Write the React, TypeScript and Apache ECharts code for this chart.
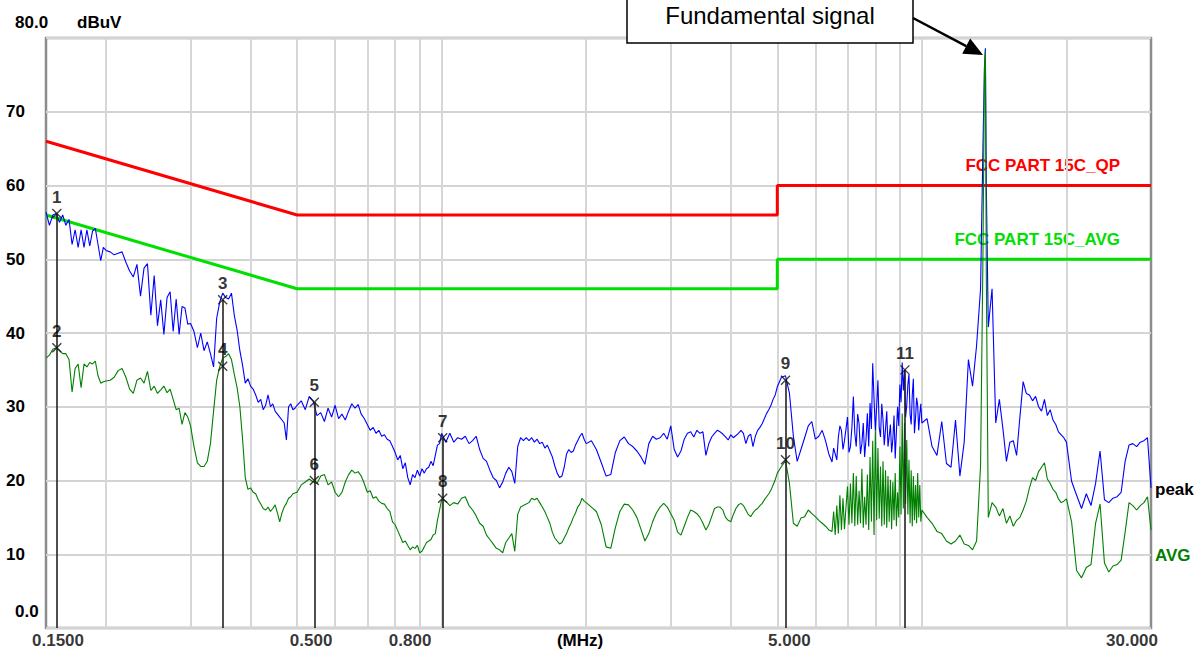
import React, { useEffect, useRef } from "react";
import * as echarts from "echarts";

// ---------- data ----------
const FREQ_MHZ: number[] = [
  // 0.15 - 0.20
  0.15, 0.1525, 0.155, 0.1575, 0.16, 0.1625, 0.165, 0.1675, 0.17, 0.1725, 0.175, 0.1775, 0.18, 0.1825, 0.185, 0.1875, 0.19, 0.1925, 0.195, 0.1975, 0.2,
  // 0.20 - 0.30
  0.204, 0.208, 0.212, 0.216, 0.22, 0.224, 0.228, 0.232, 0.236, 0.24, 0.244, 0.248, 0.252, 0.256, 0.26, 0.264, 0.268, 0.272, 0.276, 0.28, 0.284, 0.288, 0.292, 0.296, 0.3,
  // 0.30 - 0.50
  0.305, 0.31, 0.315, 0.32, 0.325, 0.33, 0.335, 0.34, 0.345, 0.35, 0.355, 0.36, 0.365, 0.37, 0.375, 0.38, 0.385, 0.39, 0.395, 0.4,
  0.405, 0.41, 0.415, 0.42, 0.425, 0.43, 0.435, 0.44, 0.445, 0.45, 0.455, 0.46, 0.465, 0.47, 0.475, 0.48, 0.485, 0.49, 0.495, 0.5,
  // 0.5 - 1.0
  0.51, 0.52, 0.53, 0.54, 0.55, 0.56, 0.57, 0.58, 0.59, 0.6,
  0.61, 0.62, 0.63, 0.64, 0.65, 0.66, 0.67, 0.68, 0.69, 0.7,
  0.71, 0.72, 0.73, 0.74, 0.75, 0.76, 0.77, 0.78, 0.79, 0.8,
  0.81, 0.82, 0.83, 0.84, 0.85, 0.86, 0.87, 0.88, 0.89, 0.9,
  0.91, 0.92, 0.93, 0.94, 0.95, 0.96, 0.97, 0.98, 0.99, 1.0,
  // 1 - 2
  1.02, 1.04, 1.06, 1.08, 1.1, 1.12, 1.14, 1.16, 1.18, 1.2,
  1.22, 1.24, 1.26, 1.28, 1.3, 1.32, 1.34, 1.36, 1.38, 1.4,
  1.42, 1.44, 1.46, 1.48, 1.5, 1.52, 1.54, 1.56, 1.58, 1.6,
  1.62, 1.64, 1.66, 1.68, 1.7, 1.72, 1.74, 1.76, 1.78, 1.8,
  1.82, 1.84, 1.86, 1.88, 1.9, 1.92, 1.94, 1.96, 1.98, 2.0,
  // 2 - 5
  2.05, 2.1, 2.15, 2.2, 2.25, 2.3, 2.35, 2.4, 2.45, 2.5,
  2.55, 2.6, 2.65, 2.7, 2.75, 2.8, 2.85, 2.9, 2.95, 3.0,
  3.05, 3.1, 3.15, 3.2, 3.25, 3.3, 3.35, 3.4, 3.45, 3.5,
  3.55, 3.6, 3.65, 3.7, 3.75, 3.8, 3.85, 3.9, 3.95, 4.0,
  4.05, 4.1, 4.15, 4.2, 4.25, 4.3, 4.35, 4.4, 4.45, 4.5,
  4.55, 4.6, 4.65, 4.7, 4.75, 4.8, 4.85, 4.9, 4.95, 5.0,
  // 5 - 10
  5.1, 5.2, 5.3, 5.4, 5.5, 5.6, 5.7, 5.8, 5.9, 6.0,
  6.1, 6.2, 6.3, 6.4, 6.5,
  6.55, 6.6, 6.65, 6.7, 6.75, 6.8, 6.85, 6.9, 6.95, 7.0,
  7.05, 7.1, 7.15, 7.2, 7.25, 7.3, 7.35, 7.4, 7.45, 7.5,
  7.55, 7.6, 7.65, 7.7, 7.75, 7.8, 7.85, 7.9, 7.95, 8.0,
  8.05, 8.1, 8.15, 8.2, 8.25, 8.3, 8.35, 8.4, 8.45, 8.5,
  8.55, 8.6, 8.65, 8.7, 8.75, 8.8, 8.85, 8.9, 8.95, 9.0,
  9.05, 9.1, 9.15, 9.2, 9.25, 9.3, 9.35, 9.4, 9.45, 9.5,
  9.55, 9.6, 9.65, 9.7, 9.75, 9.8, 9.85, 9.9, 9.95, 10.0,
  // 10 - 30
  10.25, 10.5, 10.75, 11, 11.25, 11.5, 11.75, 12, 12.25, 12.5, 12.75, 13, 13.25,
  13.4, 13.5, 13.56, 13.62,
  13.75, 14, 14.25, 14.5, 14.75, 15, 15.25, 15.5, 15.75, 16, 16.25, 16.5, 16.75,
  17, 17.25, 17.5, 17.75, 18, 18.25, 18.5, 18.75, 19, 19.25, 19.5, 19.75, 20,
  20.5, 21, 21.5, 22, 22.5, 23, 23.5, 24, 24.5, 25, 25.5, 26, 26.5, 27, 27.5, 28, 28.5, 29, 29.5, 30,
];

const PEAK_DBUV: number[] = [
  56.4, 54.6, 56.0, 56.2, 55.0, 56.0, 54.6, 55.4, 52.0, 54.0, 51.6, 54.0, 51.6, 54.0, 51.8, 53.8, 54.2, 52.0, 49.8, 51.6, 51.2,
  51.0, 50.6, 50.8, 51.0, 49.6, 48.4, 47.6, 49.3, 45.0, 48.8, 49.4, 42.4, 47.8, 41.0, 44.5, 39.8, 44.8, 45.6, 40.2, 44.6, 39.8, 43.6, 43.4, 41.2, 41.3,
  40.2, 38.0, 40.0, 37.6, 38.8, 37.2, 35.4, 42.0, 44.2, 45.4, 44.8, 44.6, 45.4, 42.4, 40.4, 37.6, 35.6, 33.2, 33.8, 32.8,
  32.4, 31.6, 30.6, 31.0, 29.6, 30.2, 31.6, 30.0, 30.4, 29.4, 29.0, 28.6, 28.2, 27.8, 25.5, 30.0, 30.4, 29.6, 29.8, 30.2,
  30.8, 29.6, 31.4, 30.8, 28.8, 29.2, 28.0, 29.8, 28.6, 30.2,
  28.4, 29.0, 28.2, 29.4, 30.4, 29.8, 30.3, 29.0, 28.4, 27.6,
  26.8, 27.2, 26.4, 26.8, 26.0, 26.2, 25.6, 25.4, 24.6, 23.8,
  22.8, 23.4, 21.6, 22.4, 20.4, 19.4, 20.8, 20.4, 21.4, 20.6,
  21.6, 21.0, 21.6, 21.8, 22.6, 22.0, 23.4, 24.8, 25.0, 26.4,
  25.2, 26.4, 25.2, 25.8, 25.6, 26.0, 25.0, 25.4, 26.0, 24.2,
  23.0, 22.6, 21.4, 20.4, 20.0, 19.0, 19.8, 21.0, 21.8, 21.2,
  19.6, 24.6, 25.8, 25.4, 25.8, 25.4, 25.8, 25.2, 25.6, 25.0,
  25.2, 24.4, 24.8, 24.0, 23.2, 22.0, 21.0, 20.4, 20.6, 21.8,
  23.6, 24.2, 23.8, 24.0, 24.8, 25.4, 26.0, 26.4, 25.6, 25.0,
  25.4, 24.2, 22.4, 20.6, 20.8, 23.8, 25.4, 25.9, 25.0, 24.6,
  24.0, 23.2, 22.2, 25.0, 26.0, 25.6, 25.8, 26.4, 25.6, 27.4,
  24.2, 23.2, 24.0, 25.6, 26.4, 26.6, 25.9, 26.8, 26.4, 26.6,
  23.4, 25.0, 25.9, 26.4, 26.8, 26.6, 26.3, 25.9, 25.5, 26.2,
  25.8, 26.1, 26.4, 26.8, 26.4, 25.0, 26.0, 26.3, 24.6, 26.0,
  26.8, 27.2, 27.7, 28.4, 29.1, 29.6, 30.2, 31.0, 31.6, 32.7,
  34.0, 34.2, 31.8, 26.0, 22.6, 24.2, 25.8, 27.4, 28.0, 25.6,
  26.0, 26.8, 25.4, 23.6, 22.5,
  24.4, 23.6, 22.8, 25.9, 27.4, 26.8, 24.2, 25.4, 27.0, 28.6,
  23.8, 24.6, 27.2, 31.4, 26.4, 24.6, 29.0, 27.7, 23.6, 25.0,
  27.8, 23.2, 25.6, 29.1, 24.6, 30.5, 27.0, 35.9, 31.0, 26.8,
  30.0, 33.6, 27.2, 25.9, 30.4, 28.2, 24.8, 27.0, 29.4, 24.6,
  26.0, 27.6, 23.8, 25.6, 28.8, 23.0, 26.6, 30.0, 27.4, 33.0,
  30.6, 36.0, 32.2, 35.0, 28.6, 30.2, 33.0, 34.4, 29.0, 27.6,
  31.6, 33.8, 26.4, 28.4, 31.2, 30.2, 26.8, 29.0, 30.4, 27.8,
  28.4, 24.6, 23.4, 28.0, 22.3, 21.8, 28.2, 20.6, 25.2, 36.4, 32.8, 38.3, 46.0,
  65.0, 76.0, 78.6, 60.0,
  40.8, 46.0, 27.8, 31.0, 27.0, 22.6, 25.2, 25.4, 23.4, 28.6, 33.4, 31.8, 31.6,
  30.8, 31.4, 30.0, 29.4, 31.0, 28.8, 29.6, 28.2, 27.6, 26.6, 26.2, 25.8, 25.2,
  19.9, 18.0, 16.2, 18.2, 16.6, 19.6, 24.0, 17.4, 17.0, 17.6, 17.8, 18.4, 22.6, 24.8, 25.0, 24.6, 25.2, 25.4, 25.8, 19.0,
];

const AVG_DBUV: number[] = [
  36.6, 37.0, 37.8, 38.0, 37.6, 37.2, 37.2, 36.4, 32.0, 35.2, 35.8, 32.6, 35.8, 35.4, 36.0, 35.8, 36.2, 34.2, 33.2, 33.4, 33.5,
  33.6, 34.0, 34.9, 35.2, 34.0, 32.4, 31.8, 33.6, 33.9, 33.2, 34.8, 32.2, 32.8, 31.8, 32.3, 32.8, 31.9, 32.4, 31.0, 29.6, 29.8, 27.6, 29.2, 28.6, 27.4,
  24.6, 22.4, 21.9, 21.9, 22.6, 25.0, 29.4, 33.6, 35.4, 36.6, 36.8, 37.2, 36.4, 34.4, 32.6, 30.0, 25.6, 20.4, 18.8, 19.0,
  18.4, 18.2, 17.4, 16.8, 16.2, 16.0, 16.4, 15.8, 16.2, 16.7, 15.6, 14.4, 15.6, 16.4, 16.9, 17.6, 17.8, 18.2, 18.3, 18.4,
  19.4, 19.8, 20.2, 19.8, 19.6, 20.6, 20.8, 19.4, 19.8, 18.4,
  17.8, 18.4, 19.8, 20.8, 21.4, 21.0, 21.2, 20.6, 19.6, 18.4,
  18.6, 17.6, 17.8, 17.2, 16.9, 16.8, 16.2, 15.8, 14.4, 14.0,
  13.2, 12.4, 11.6, 11.8, 11.2, 10.6, 11.0, 10.8, 11.2, 10.2,
  10.4, 11.0, 11.6, 11.8, 12.0, 12.6, 12.8, 14.6, 16.0, 17.4,
  17.2, 16.6, 17.0, 16.8, 17.6, 17.8, 16.6, 16.0, 15.2, 14.2,
  13.8, 12.6, 12.0, 11.4, 10.8, 10.6, 10.2, 11.6, 12.2, 12.8,
  10.4, 15.4, 16.4, 16.6, 16.8, 17.0, 17.6, 17.4, 17.6, 17.0,
  16.4, 15.8, 15.0, 14.2, 13.0, 12.2, 11.8, 11.4, 11.6, 12.2,
  12.8, 13.6, 14.2, 15.0, 15.6, 16.4, 16.8, 17.6, 17.2, 17.0,
  16.4, 15.8, 14.0, 11.0, 10.8, 13.6, 15.8, 16.8, 16.7, 16.0,
  15.0, 13.4, 11.8, 12.8, 14.4, 15.6, 16.4, 16.9, 16.4, 15.5,
  14.6, 13.0, 12.6, 13.8, 15.0, 16.0, 15.8, 15.5, 15.0, 14.2,
  13.3, 14.0, 15.1, 16.2, 16.4, 16.4, 16.0, 15.0, 14.6, 14.4,
  15.4, 16.2, 16.7, 16.9, 16.6, 16.0, 15.4, 15.1, 15.6, 16.0,
  16.2, 16.6, 16.9, 17.4, 17.8, 18.2, 18.7, 19.4, 20.1, 21.0,
  21.9, 22.7, 19.6, 14.2, 13.8, 14.9, 15.1, 16.0, 15.5, 15.1,
  14.6, 14.2, 13.8, 13.3, 13.1,
  15.8, 12.6, 16.6, 12.8, 18.0, 13.3, 17.6, 13.4, 16.4, 19.2,
  14.0, 19.6, 14.2, 21.0, 13.8, 20.6, 14.0, 18.6, 14.2, 21.6,
  13.6, 17.8, 14.0, 20.8, 13.3, 23.2, 14.4, 25.4, 12.6, 26.8,
  14.6, 24.4, 14.8, 21.9, 13.8, 22.6, 14.0, 21.4, 13.6, 20.6,
  14.4, 20.1, 13.4, 19.8, 14.6, 21.0, 13.8, 18.4, 15.0, 24.6,
  15.4, 29.1, 16.2, 27.8, 16.8, 25.5, 15.4, 22.8, 14.2, 21.4,
  13.8, 20.6, 14.6, 19.4, 14.2, 21.0, 15.0, 19.4, 14.4, 16.0,
  15.0, 14.2, 13.1, 12.8, 11.8, 11.4, 11.8, 12.6, 11.4, 11.2, 10.6, 11.8, 22.0,
  50.0, 76.0, 78.2, 48.0,
  15.0, 17.0, 16.4, 15.2, 16.2, 14.2, 15.2, 13.8, 14.6, 15.0, 16.0, 17.2, 19.0,
  20.4, 20.0, 21.2, 21.8, 22.4, 20.2, 19.6, 18.8, 18.4, 17.5, 17.0, 17.2, 17.5,
  14.4, 7.8, 6.8, 8.2, 8.6, 14.2, 16.8, 8.8, 7.6, 8.4, 8.6, 9.2, 13.0, 17.0, 16.6, 16.0, 16.6, 17.0, 17.8, 13.3,
];

const QP_LIMIT_FREQ: number[] = [0.15, 0.5, 5, 5, 30];
const QP_LIMIT_DBUV: number[] = [66, 56, 56, 60, 60];
const AV_LIMIT_FREQ: number[] = [0.15, 0.5, 5, 5, 30];
const AV_LIMIT_DBUV: number[] = [56, 46, 46, 50, 50];

const MARKER_LABELS: string[] = ["1", "2", "3", "4", "5", "6", "7", "8", "9", "10", "11"];
const MARKER_FREQ: number[] = [0.158, 0.158, 0.35, 0.35, 0.543, 0.543, 1.005, 1.005, 5.2, 5.2, 9.22];
const MARKER_DBUV: number[] = [56.2, 38.0, 44.5, 35.5, 30.6, 20.0, 25.8, 17.6, 33.6, 22.8, 35.0];

const X_TICK_FREQ: number[] = [0.15, 0.5, 0.8, 5, 30];
const X_TICK_TEXT: string[] = ["0.1500", "0.500", "0.800", "5.000", "30.000"];
const GRID_FREQ: number[] = [0.2, 0.3, 0.4, 0.5, 0.6, 0.7, 0.8, 0.9, 1, 2, 3, 4, 5, 6, 7, 8, 9, 10, 20];

// ---------- layout / style (not data) ----------
const X_TICK_NUDGE = [12, 14, 15, 12, -19];
const FONT = '"Liberation Sans", Arial, Helvetica, sans-serif';
const LABEL_SIZE = 17;

const zip = (xs: number[], ys: number[]) => xs.map((x, i) => [x, ys[i]]);

export default function App() {
  const ref = useRef<HTMLDivElement>(null);

  useEffect(() => {
    if (!ref.current) return;
    const chart = echarts.init(ref.current, undefined, { renderer: "svg" });

    // vertical marker lines: one per frequency, from axis to highest marker
    const lineMap = new Map<number, number>();
    MARKER_FREQ.forEach((f, i) => {
      lineMap.set(f, Math.max(lineMap.get(f) ?? 0, MARKER_DBUV[i]));
    });
    const markerLines = Array.from(lineMap.entries()).map(([f, v]) => ({ coords: [[f, 0], [f, v]] }));

    const boldText = (text: string, x: number, y: number, fill: string, align: string, z = 50) => ({
      type: "text",
      x,
      y,
      z,
      silent: true,
      style: { text, fill, font: `bold ${LABEL_SIZE}px ${FONT}`, align, verticalAlign: "middle" },
    });

    // arrow geometry for annotation
    const tip = [983, 55];
    const start = [913, 18];
    const dx = tip[0] - start[0];
    const dy = tip[1] - start[1];
    const len = Math.sqrt(dx * dx + dy * dy);
    const ux = dx / len;
    const uy = dy / len;
    const headLen = 19;
    const headHalf = 8.5;
    const bx = tip[0] - ux * headLen;
    const by = tip[1] - uy * headLen;

    const option: any = {
      animation: false,
      backgroundColor: "#ffffff",
      grid: {
        left: 46,
        right: 49,
        top: 38,
        bottom: 24,
        show: true,
        borderColor: "#8c8c8c",
        borderWidth: 2.5,
        backgroundColor: "transparent",
      },
      xAxis: {
        type: "log",
        logBase: 10,
        min: 0.15,
        max: 30,
        axisLine: { show: false },
        axisTick: { show: false },
        axisLabel: { show: false },
        splitLine: { show: false },
      },
      yAxis: {
        type: "value",
        min: 0,
        max: 80,
        interval: 10,
        axisLine: { show: false },
        axisTick: { show: false },
        axisLabel: {
          formatter: (v: number) => (v === 0 || v === 80 ? "" : String(v)),
          margin: 21,
          color: "#000",
          fontSize: LABEL_SIZE,
          fontWeight: "bold",
          fontFamily: FONT,
        },
        splitLine: { show: true, lineStyle: { color: "#d3d3d3", width: 2 } },
      },
      graphic: [
        boldText("80.0", 15, 22, "#000", "left"),
        boldText("dBuV", 77, 22, "#000", "left"),
        boldText("0.0", 15, 611, "#000", "left"),
        boldText("(MHz)", 580, 640, "#000", "center"),
        boldText("FCC PART 15C_QP", 1120, 165, "#ff0000", "right", 1),
        boldText("FCC PART 15C_AVG", 1120, 239, "#00e000", "right", 1),
        boldText("peak", 1155, 489, "#000", "left"),
        boldText("AVG", 1155, 555, "#008000", "left"),
        {
          type: "rect",
          z: 100,
          silent: true,
          shape: { x: 627, y: -4, width: 286, height: 47 },
          style: { fill: "#ffffff", stroke: "#000000", lineWidth: 1.5 },
        },
        {
          type: "text",
          z: 101,
          x: 770,
          y: 15,
          silent: true,
          style: {
            text: "Fundamental signal",
            fill: "#000",
            font: `24px ${FONT}`,
            align: "center",
            verticalAlign: "middle",
          },
        },
        {
          type: "line",
          z: 100,
          silent: true,
          shape: { x1: start[0], y1: start[1], x2: bx, y2: by },
          style: { stroke: "#000", lineWidth: 2.5 },
        },
        {
          type: "polygon",
          z: 100,
          silent: true,
          shape: {
            points: [
              [tip[0], tip[1]],
              [bx - uy * headHalf, by + ux * headHalf],
              [bx + uy * headHalf, by - ux * headHalf],
            ],
          },
          style: { fill: "#000" },
        },
      ],
      series: [
        {
          type: "lines",
          coordinateSystem: "cartesian2d",
          silent: true,
          z: 1,
          lineStyle: { color: "#d6d6d6", width: 2, opacity: 1 },
          data: GRID_FREQ.map((f) => ({ coords: [[f, 0], [f, 80]] })),
        },
        {
          name: "FCC PART 15C_QP",
          type: "line",
          silent: true,
          z: 2,
          symbol: "none",
          lineStyle: { color: "#ff0000", width: 3 },
          data: zip(QP_LIMIT_FREQ, QP_LIMIT_DBUV),
        },
        {
          name: "FCC PART 15C_AVG",
          type: "line",
          silent: true,
          z: 2,
          symbol: "none",
          lineStyle: { color: "#00e000", width: 3 },
          data: zip(AV_LIMIT_FREQ, AV_LIMIT_DBUV),
        },
        {
          name: "peak",
          type: "line",
          silent: true,
          z: 3,
          symbol: "none",
          lineStyle: { color: "#0000ff", width: 1.1 },
          data: zip(FREQ_MHZ, PEAK_DBUV),
        },
        {
          name: "AVG",
          type: "line",
          silent: true,
          z: 4,
          symbol: "none",
          lineStyle: { color: "#008000", width: 1.1 },
          data: zip(FREQ_MHZ, AVG_DBUV),
        },
        {
          type: "lines",
          coordinateSystem: "cartesian2d",
          silent: true,
          z: 5,
          lineStyle: { color: "#222222", width: 1.6, opacity: 1 },
          data: markerLines,
        },
        {
          type: "scatter",
          silent: true,
          z: 6,
          symbol: "path://M0 0L10 10M10 0L0 10",
          symbolSize: 9,
          itemStyle: { color: "none", borderColor: "#111", borderWidth: 1.4 },
          label: {
            show: true,
            position: "top",
            distance: 1,
            formatter: "{b}",
            color: "#000",
            fontSize: 17,
            fontWeight: "bold",
            fontFamily: FONT,
          },
          data: MARKER_FREQ.map((f, i) => ({ name: MARKER_LABELS[i], value: [f, MARKER_DBUV[i]] })),
        },
        {
          type: "scatter",
          silent: true,
          clip: false,
          z: 7,
          symbolSize: 1,
          itemStyle: { color: "transparent" },
          label: {
            show: true,
            position: "inside",
            color: "#000",
            fontSize: LABEL_SIZE,
            fontWeight: "bold",
            fontFamily: FONT,
          },
          data: X_TICK_FREQ.map((f, i) => ({
            value: [f, 0],
            label: { formatter: X_TICK_TEXT[i], offset: [X_TICK_NUDGE[i], 12] },
          })),
        },
      ],
    };

    chart.setOption(option);
    return () => chart.dispose();
  }, []);

  return (
    <div
      ref={ref}
      style={{ position: "absolute", left: 0, top: 0, width: 1200, height: 652, background: "#fff" }}
    />
  );
}
